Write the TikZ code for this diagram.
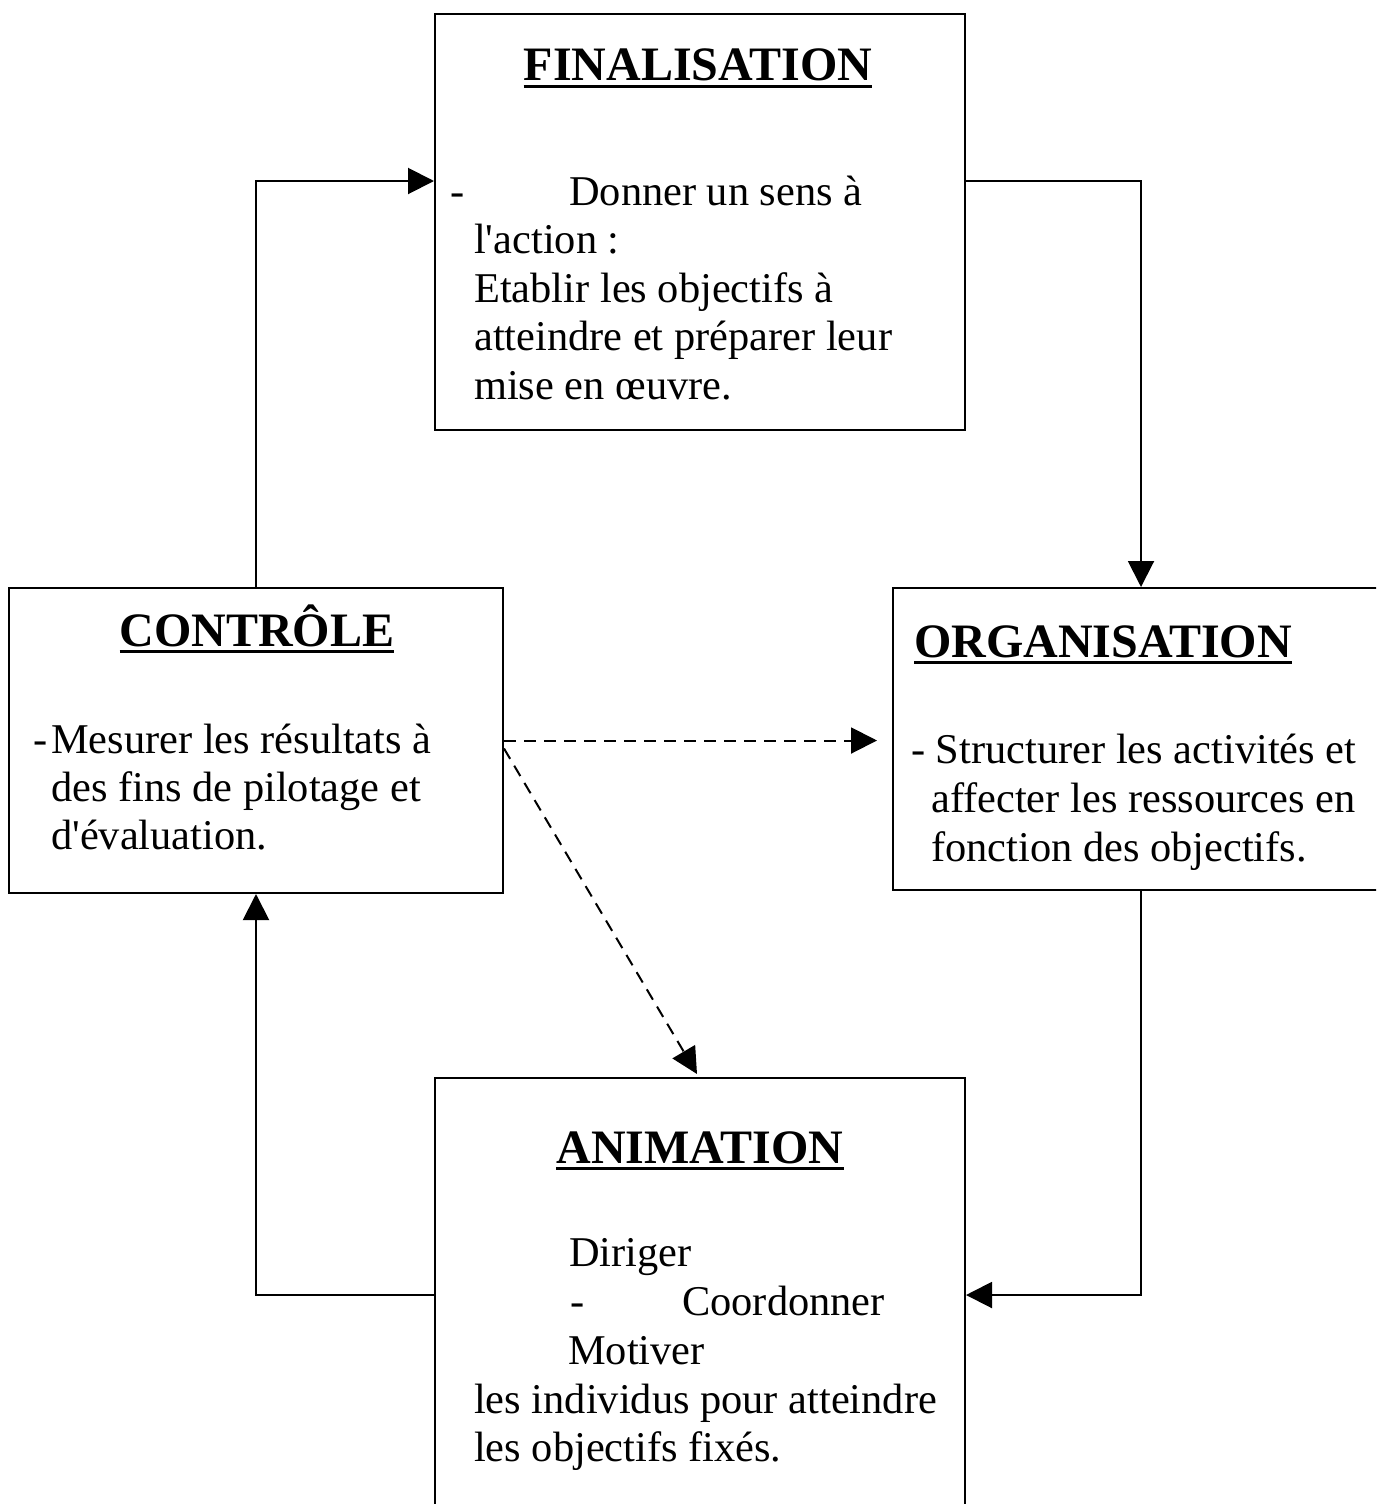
\documentclass[tikz,border=0pt]{standalone}
\usepackage{fontspec}
\setmainfont{Liberation Serif}
\usepackage{tikz}
\usetikzlibrary{arrows.meta,positioning,calc}
\newcommand{\ultitle}[1]{\setbox0=\hbox{#1}\rlap{\rule[-7pt]{\wd0}{3pt}}\box0}

\begin{document}
\begin{tikzpicture}[
 x=1pt,y=-1pt,
 >={Triangle[length=26pt,width=26pt]},
 box/.style={draw,line width=2pt,inner sep=0pt},
 boxtitle/.style={font=\fontsize{48}{55}\selectfont\bfseries,anchor=base,inner sep=0pt},
 body/.style={font=\fontsize{42.4}{48.5}\selectfont,anchor=base west,inner sep=0pt},
 link/.style={->,line width=2pt},
 dlink/.style={->,line width=2pt,dash pattern=on 12pt off 8pt}
]
\clip (0,0) rectangle (1376,1504);
% the four boxes
\node[box,minimum width=530pt,minimum height=416pt] (fin) at (700,222) {};
\node[box,minimum width=494pt,minimum height=305pt] (ctrl) at (256,740.5) {};
\node[box,minimum width=496pt,minimum height=302pt] (org) at (1141,739) {};
\node[box,minimum width=530pt,minimum height=434pt] (anim) at (700,1295) {};
% titles
\node[boxtitle] (fintitle) at (698,81) {\ultitle{FINALISATION}};
\node[boxtitle] (ctrltitle) at (257,646) {\ultitle{CONTRÔLE}};
\node[boxtitle] (orgtitle) at (1103,657) {\ultitle{ORGANISATION}};
\node[boxtitle] (animtitle) at (700,1163) {\ultitle{ANIMATION}};
% texts
\node[body] (findash) at (450,205) {-};
\node[body] (fin1) at (569,205) {Donner un sens à};
\foreach \y/\txt [count=\i from 2] in {253.5/{l\textquotesingle action :},302/{Etablir les objectifs à},350.5/{atteindre et préparer leur},399/{mise en œuvre.}}
 \node[body] (fin\i) at (474,\y) {\txt};
\node[body] (ctrldash) at (33,753) {-};
\foreach \y/\txt [count=\i] in {753/{Mesurer les résultats à},801/{des fins de pilotage et},849/{d\textquotesingle évaluation.}}
 \node[body] (ctrl\i) at (51,\y) {\txt};
\node[body] (org1) at (911,763) {- Structurer les activités et};
\node[body] (org2) at (931,812) {affecter les ressources en};
\node[body] (org3) at (931,861) {fonction des objectifs.};
\node[body] (anim1) at (569,1266) {Diriger};
\node[body] (animdash) at (570,1315) {-};
\node[body] (anim2) at (682,1315) {Coordonner};
\node[body] (anim3) at (568,1364) {Motiver};
\node[body] (anim4) at (474,1413) {les individus pour atteindre};
\node[body] (anim5) at (474,1461) {les objectifs fixés.};
% cycle
\draw[link] (ctrl.north) |- ([yshift=41pt]fin.west);
\draw[link] ([yshift=41pt]fin.east) -| (org.north);
\draw[link] (org.south) |- (anim.east);
\draw[link] (anim.west) -| (ctrl.south);
% feedback
\draw[dlink,shorten >=15pt] (ctrl.east) -- (ctrl.east -| org.west);
\draw[dlink] ([yshift=-8pt]ctrl.east) -- ([xshift=-3pt,yshift=3pt]anim.north);
\end{tikzpicture}
\end{document}
